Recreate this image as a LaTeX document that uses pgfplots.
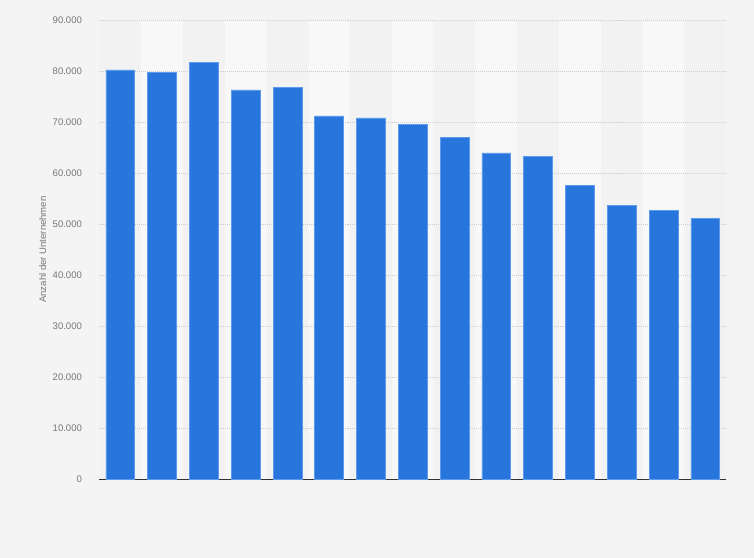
\documentclass[border=0pt]{standalone}
\usepackage{pgfplots}
\pgfplotsset{compat=1.18}
\usepackage{fontspec}
\setmainfont{Liberation Sans}

\definecolor{pagebg}{HTML}{F4F4F4}
\definecolor{banddark}{HTML}{F2F2F2}
\definecolor{bandlight}{HTML}{F8F8F8}
\definecolor{barblue}{HTML}{2876DD}
\definecolor{baredge}{HTML}{5C9BEA}
\definecolor{ticktext}{HTML}{777777}
\definecolor{gridgray}{HTML}{CCCCCC}

\pgfplotstableread{
x  y
1  80200
2  79700
3  81600
4  76300
5  76700
6  71200
7  70800
8  69450
9  66950
10 63950
11 63200
12 57500
13 53600
14 52650
15 51100
}\unternehmen

\begin{document}
\pagecolor{pagebg}
\begin{tikzpicture}[x=1pt,y=1pt]
  \begin{axis}[
      set layers=standard,
      at={(97pt,79pt)},
      anchor=south west,
      scale only axis,
      width=629pt,
      height=461pt,
      xmin=0.5, xmax=15.5,
      ymin=0, ymax=90000,
      xtick=\empty,
      ytick={0,10000,...,90000},
      axis lines*=left,
      y axis line style={draw=none},
      x axis line style={draw=black!80, line width=1.2pt},
      major tick length=0pt,
      axis background/.style={fill=banddark},
      ymajorgrids=true,
      grid style={dash pattern=on 0.8pt off 1.2pt, gridgray, line width=0.8pt},
      scaled y ticks=false,
      yticklabel style={
        /pgf/number format/.cd, fixed, 1000 sep={.}, assume math mode=true,
        /tikz/.cd, font=\fontsize{9.6}{11}\selectfont, text=ticktext, xshift=-14pt},
      ylabel={Anzahl der Unternehmen},
      ylabel style={at={(axis description cs:-0.0906,0.5)}, anchor=center,
        font=\fontsize{9.6}{11}\selectfont, text=ticktext},
      clip=false,
    ]
    % alternating light column bands behind the grid
    \addplot[ybar, bar width=1, fill=bandlight, draw=none, on layer=axis background]
      coordinates {(2,90000) (4,90000) (6,90000) (8,90000) (10,90000) (12,90000) (14,90000)};
    \addplot[ybar, bar width=0.69, fill=barblue, draw=baredge, line width=0.6pt]
      table[x=x, y=y] {\unternehmen};
  \end{axis}
  \pgfresetboundingbox
  \path (0,0) rectangle (754,560);
\end{tikzpicture}
\end{document}
